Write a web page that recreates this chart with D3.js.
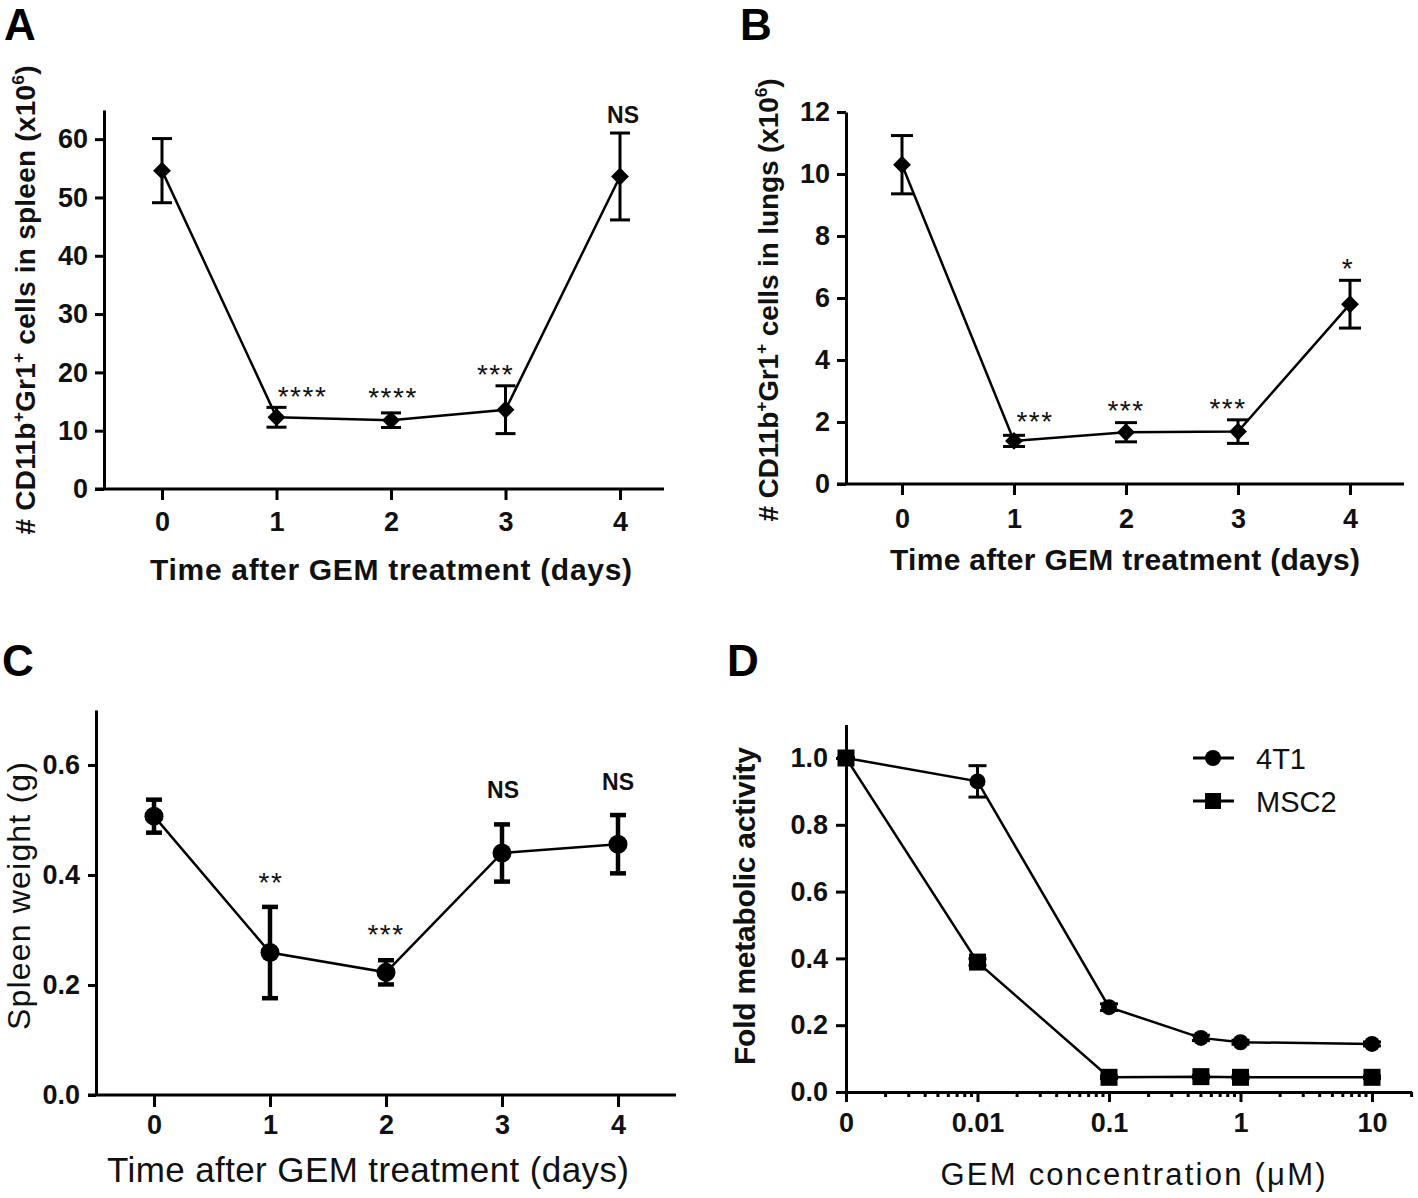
<!DOCTYPE html>
<html><head><meta charset="utf-8">
<script src="https://cdn.jsdelivr.net/npm/d3@7"></script>
<style>body{margin:0;background:#fff} svg{display:block}</style>
</head><body>
<svg id="fig" width="1418" height="1198"></svg>
<script>
// ---------------- DATA ----------------
const days = [0, 1, 2, 3, 4];

// Panel A: # CD11b+Gr1+ cells in spleen (x10^6)
const spleenCells = [54.6, 12.3, 11.8, 13.6, 53.6];
const spleenCellsErr = [5.5, 1.7, 1.25, 4.1, 7.45];
const spleenCellsSig = ["", "****", "****", "***", "NS"];
const spleenCellsTicks = [0, 10, 20, 30, 40, 50, 60];

// Panel B: # CD11b+Gr1+ cells in lungs (x10^6)
const lungCells = [10.3, 1.39, 1.67, 1.69, 5.8];
const lungCellsErr = [0.94, 0.18, 0.31, 0.38, 0.77];
const lungCellsSig = ["", "***", "***", "***", "*"];
const lungCellsTicks = [0, 2, 4, 6, 8, 10, 12];

// Panel C: spleen weight (g)
const spleenWeight = [0.507, 0.259, 0.223, 0.440, 0.456];
const spleenWeightErr = [0.03, 0.083, 0.022, 0.052, 0.053];
const spleenWeightSig = ["", "**", "***", "NS", "NS"];
const spleenWeightTicks = [0, 0.2, 0.4, 0.6];

// Panel D: fold metabolic activity vs GEM concentration (uM)
const gemConc = [0, 0.01, 0.1, 0.5, 1, 10];
const zeroConcPlotAt = 0.001;          // where "0" sits on the log axis
const act4T1 = [1.0, 0.93, 0.254, 0.162, 0.149, 0.144];
const act4T1Err = [0, 0.047, 0.01, 0.008, 0.006, 0.006];
const actMSC2 = [1.0, 0.389, 0.044, 0.046, 0.044, 0.044];
const actMSC2Err = [0, 0.01, 0.004, 0.004, 0.004, 0.004];
const actTicks = [0, 0.2, 0.4, 0.6, 0.8, 1.0];
const concTicks = [0.001, 0.01, 0.1, 1, 10];
const concTickLabels = ["0", "0.01", "0.1", "1", "10"];
const seriesNames = ["4T1", "MSC2"];

// ---------------- DRAW ----------------
const FONT = "'Liberation Sans', Arial, Helvetica, sans-serif";
const TICK_FS = 27;
const svg = d3.select("#fig");
svg.append("rect").attr("width", 1418).attr("height", 1198).attr("fill", "#fff");

function panelLetter(t, x, y) {
  svg.append("text").attr("x", x).attr("y", y)
    .attr("font-family", FONT).attr("font-weight", "bold").attr("font-size", 44)
    .attr("fill", "#000").text(t);
}

function styleAxis(g) {
  g.selectAll("path.domain").attr("stroke", "#000").attr("stroke-width", 3);
  g.selectAll(".tick line").attr("stroke", "#000").attr("stroke-width", 3);
  g.selectAll(".tick text").attr("font-family", FONT).attr("font-weight", "bold")
    .attr("font-size", TICK_FS).attr("fill", "#111");
}

function xLabel(text, cx, baseline, opt) {
  const t = svg.append("text").attr("x", cx).attr("y", baseline)
    .attr("text-anchor", "middle").attr("font-family", FONT)
    .attr("font-weight", opt.bold ? "bold" : "normal")
    .attr("font-size", opt.size).attr("fill", "#111").text(text);
  if (opt.len) t.attr("textLength", opt.len).attr("lengthAdjust", "spacing");
  return t;
}

function yLabel(parts, baselineX, cy, opt) {
  const t = svg.append("text")
    .attr("transform", `translate(${baselineX},${cy}) rotate(-90)`)
    .attr("text-anchor", "middle").attr("font-family", FONT)
    .attr("font-weight", opt.bold ? "bold" : "normal")
    .attr("font-size", opt.size).attr("fill", "#111");
  let pendingDy = 0;
  parts.forEach(p => {
    if (p.sup) {
      t.append("tspan").attr("dy", pendingDy - opt.size * 0.4)
        .attr("font-size", opt.size * 0.62).text(p.sup);
      pendingDy = opt.size * 0.4;
    } else {
      t.append("tspan").attr("dy", pendingDy).text(p.t);
      pendingDy = 0;
    }
  });
  if (opt.len) t.attr("textLength", opt.len).attr("lengthAdjust", "spacing");
  return t;
}

function annotate(g, label, cx, cy) {
  if (!label) return;
  const isStar = label.indexOf("*") >= 0;
  const fs = isStar ? 28 : 23;
  g.append("text").attr("x", cx).attr("y", cy + (isStar ? 0.57 : 0.36) * fs)
    .attr("text-anchor", "middle").attr("font-family", FONT)
    .attr("font-weight", isStar ? "normal" : "bold")
    .attr("letter-spacing", isStar ? 1.5 : 0)
    .attr("font-size", fs).attr("fill", "#111").text(label);
}

function errorBars(g, xs, ys, es, y, capW, sw) {
  xs.forEach((xv, i) => {
    const top = y(ys[i] + es[i]), bot = y(ys[i] - es[i]);
    g.append("line").attr("x1", xv).attr("x2", xv).attr("y1", top).attr("y2", bot)
      .attr("stroke", "#000").attr("stroke-width", sw);
    [top, bot].forEach(yy => g.append("line").attr("x1", xv - capW / 2).attr("x2", xv + capW / 2)
      .attr("y1", yy).attr("y2", yy).attr("stroke", "#000").attr("stroke-width", sw));
  });
}

function timePanel(p) {
  const g = svg.append("g");
  const x = d3.scaleLinear().domain([0, 4]).range(p.xRange);
  const y = d3.scaleLinear().domain(p.yDomain).range(p.yRange);
  const ya = g.append("g").attr("transform", `translate(${p.axisX},0)`)
    .call(d3.axisLeft(y).tickValues(p.yTicks).tickFormat(p.yFormat)
      .tickSize(p.yTickSize).tickPadding(p.yPad).tickSizeOuter(0));
  styleAxis(ya);
  const xa = g.append("g").attr("transform", `translate(0,${p.yRange[0]})`)
    .call(d3.axisBottom(x).tickValues(days).tickFormat(d3.format("d"))
      .tickSize(p.xTickSize).tickPadding(p.xPad).tickSizeOuter(0));
  xa.select("path.domain").remove();
  styleAxis(xa);
  g.append("line").attr("x1", p.axisX - p.yTickSize).attr("x2", p.xEnd)
    .attr("y1", p.yRange[0]).attr("y2", p.yRange[0])
    .attr("stroke", "#000").attr("stroke-width", 3);

  const xs = days.map(d => x(d));
  g.append("path").datum(p.values)
    .attr("d", d3.line().x((d, i) => xs[i]).y(d => y(d)))
    .attr("fill", "none").attr("stroke", "#000").attr("stroke-width", 2.5);
  errorBars(g, xs, p.values, p.errs, y, p.capW, p.errW);
  p.values.forEach((v, i) => {
    if (p.marker === "diamond") {
      g.append("path").attr("d", d3.symbol(d3.symbolSquare, 160)())
        .attr("transform", `translate(${xs[i]},${y(v)}) rotate(45)`).attr("fill", "#000");
    } else {
      g.append("circle").attr("cx", xs[i]).attr("cy", y(v)).attr("r", 9.5).attr("fill", "#000");
    }
  });
  p.sig.forEach((s, i) => annotate(g, s, xs[i] + p.sigDx[i], y(p.values[i] + p.errs[i]) - p.sigGap[i]));
}

// Panel A
panelLetter("A", 4, 40);
timePanel({
  xRange: [162, 620], axisX: 104, xEnd: 664,
  yDomain: [0, 65], yRange: [489, 110], yTicks: spleenCellsTicks, yFormat: d3.format("d"),
  yTickSize: 9, yPad: 7, xTickSize: 11, xPad: 12,
  values: spleenCells, errs: spleenCellsErr, sig: spleenCellsSig,
  sigDx: [0, 26, 2, -10, 3], sigGap: [0, 17, 22, 18, 18],
  marker: "diamond", capW: 20, errW: 3
});
yLabel([{t: "# CD11b"}, {sup: "+"}, {t: "Gr1"}, {sup: "+"}, {t: " cells in spleen (x10"}, {sup: "6"}, {t: ")"}],
  35, 300, {bold: true, size: 28, len: 469});
xLabel("Time after GEM treatment (days)", 391, 580, {bold: true, size: 30, len: 482});

// Panel B
panelLetter("B", 740, 40);
timePanel({
  xRange: [902, 1350], axisX: 846, xEnd: 1404,
  yDomain: [0, 12], yRange: [484, 112], yTicks: lungCellsTicks, yFormat: d3.format("d"),
  yTickSize: 9, yPad: 7, xTickSize: 11, xPad: 14,
  values: lungCells, errs: lungCellsErr, sig: lungCellsSig,
  sigDx: [0, 21, 0, -10, -2], sigGap: [0, 20, 19, 18, 18],
  marker: "diamond", capW: 22, errW: 3
});
yLabel([{t: "# CD11b"}, {sup: "+"}, {t: "Gr1"}, {sup: "+"}, {t: " cells in lungs (x10"}, {sup: "6"}, {t: ")"}],
  778, 300, {bold: true, size: 28, len: 443});
xLabel("Time after GEM treatment (days)", 1125, 570, {bold: true, size: 30, len: 470});

// Panel C
panelLetter("C", 2, 676);
timePanel({
  xRange: [154, 618], axisX: 96, xEnd: 676,
  yDomain: [0, 0.7], yRange: [1095, 710], yTicks: spleenWeightTicks, yFormat: d3.format(".1f"),
  yTickSize: 8, yPad: 8, xTickSize: 12, xPad: 8,
  values: spleenWeight, errs: spleenWeightErr, sig: spleenWeightSig,
  sigDx: [0, 1, 0, 1, 0], sigGap: [0, 31, 32, 35, 33],
  marker: "circle", capW: 16, errW: 4.5
});
yLabel([{t: "Spleen weight (g)"}], 30, 896, {bold: false, size: 32, len: 268});
xLabel("Time after GEM treatment (days)", 368, 1182, {bold: false, size: 35, len: 522});

// Panel D
panelLetter("D", 727, 676);
(function () {
  const g = svg.append("g");
  const x = d3.scaleLog().domain([zeroConcPlotAt, 20]).range([846, 846 + Math.log10(20 / zeroConcPlotAt) * 131.5]);
  const y = d3.scaleLinear().domain([0, 1.1]).range([1092, 1092 - 1.1 * 334]);
  const ya = g.append("g").attr("transform", "translate(846,0)")
    .call(d3.axisLeft(y).tickValues(actTicks).tickFormat(d3.format(".1f"))
      .tickSize(10).tickPadding(8).tickSizeOuter(0));
  styleAxis(ya);
  const xa = g.append("g").attr("transform", "translate(0,1092)")
    .call(d3.axisBottom(x).tickValues(concTicks).tickFormat((d, i) => concTickLabels[i])
      .tickSize(10).tickPadding(11).tickSizeOuter(0));
  styleAxis(xa);
  const minor = x.ticks().filter(t => !concTicks.some(m => Math.abs(m - t) / m < 1e-6));
  g.selectAll("line.minor").data(minor).enter().append("line").attr("class", "minor")
    .attr("x1", d => x(d)).attr("x2", d => x(d)).attr("y1", 1092).attr("y2", 1097)
    .attr("stroke", "#000").attr("stroke-width", 3);

  const xp = gemConc.map(c => x(c === 0 ? zeroConcPlotAt : c));
  const series = [{v: act4T1, e: act4T1Err, m: "circle"}, {v: actMSC2, e: actMSC2Err, m: "square"}];
  series.forEach(s => {
    g.append("path").datum(s.v)
      .attr("d", d3.line().x((d, i) => xp[i]).y(d => y(d)))
      .attr("fill", "none").attr("stroke", "#000").attr("stroke-width", 2.5);
  });
  series.forEach(s => {
    errorBars(g, xp, s.v, s.e, y, 18, 3);
    s.v.forEach((v, i) => {
      if (s.m === "circle") g.append("circle").attr("cx", xp[i]).attr("cy", y(v)).attr("r", 8).attr("fill", "#000");
      else g.append("rect").attr("x", xp[i] - 8.5).attr("y", y(v) - 8.5).attr("width", 17).attr("height", 17).attr("fill", "#000");
    });
  });
  // legend
  const legY = [758, 801];
  seriesNames.forEach((name, i) => {
    g.append("line").attr("x1", 1193).attr("x2", 1234).attr("y1", legY[i]).attr("y2", legY[i])
      .attr("stroke", "#000").attr("stroke-width", 3);
    if (i === 0) g.append("circle").attr("cx", 1213).attr("cy", legY[i]).attr("r", 8).attr("fill", "#000");
    else g.append("rect").attr("x", 1205).attr("y", legY[i] - 8).attr("width", 16).attr("height", 16).attr("fill", "#000");
    g.append("text").attr("x", 1256).attr("y", legY[i] + 10.5).attr("font-family", FONT)
      .attr("font-size", 29).attr("fill", "#111").text(name);
  });
})();
yLabel([{t: "Fold metabolic activity"}], 755, 906, {bold: true, size: 30, len: 318});
xLabel("GEM concentration (\u03BCM)", 1133, 1185, {bold: false, size: 31, len: 385});
</script>
</body></html>
